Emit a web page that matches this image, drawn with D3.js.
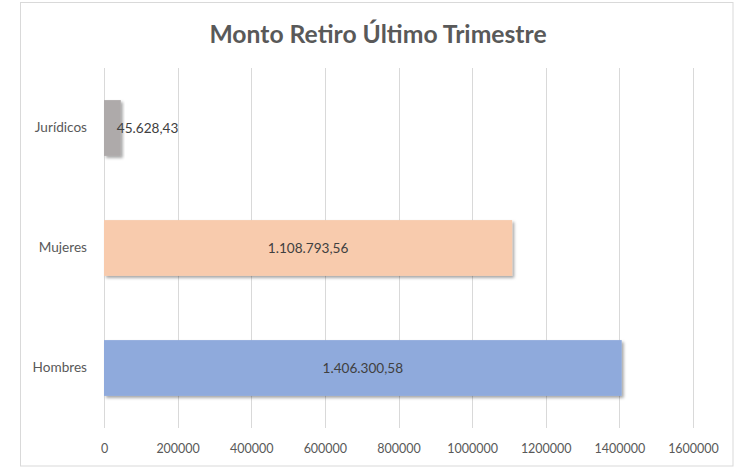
<!DOCTYPE html>
<html>
<head>
<meta charset="utf-8">
<script src="https://cdn.jsdelivr.net/npm/d3@7"></script>
<style>
  html, body { margin: 0; padding: 0; background: #fff; }
  svg { display: block; font-family: Lato, "Open Sans", sans-serif; }
</style>
</head>
<body>
<div id="chart"></div>
<script>
// chart data
const title = 'Monto Retiro Último Trimestre'
const categories = ['Jurídicos', 'Mujeres', 'Hombres']
const values = [45628.43, 1108793.56, 1406300.58]
const colors = ['#AEAAAA', '#F8CBAD', '#8FAADC']
const xTicks = [0, 200000, 400000, 600000, 800000, 1000000, 1200000, 1400000, 1600000]

const width = 743
const height = 468
const textColor = '#595959'
const gridColor = '#D9D9D9'

// es-ES style number: 1.406.300,58
const fmtLabel = d3.formatLocale({ decimal: ',', thousands: '.', grouping: [3], currency: ['', ''] }).format(',.2f')

const svg = d3.select('#chart')
  .append('svg')
  .attr('width', width)
  .attr('height', height)

// drop shadow for bars
const defs = svg.append('defs')
const filter = defs.append('filter')
  .attr('id', 'shadow')
  .attr('x', '-10%').attr('y', '-20%')
  .attr('width', '130%').attr('height', '150%')
filter.append('feDropShadow')
  .attr('dx', 2).attr('dy', 2)
  .attr('stdDeviation', 1.5)
  .attr('flood-color', '#000')
  .attr('flood-opacity', 0.35)

// outer chart border
svg.append('rect')
  .attr('x', 20.5).attr('y', 2.5)
  .attr('width', 712.5).attr('height', 463.5)
  .attr('fill', '#fff')
  .attr('stroke', gridColor)
  .attr('stroke-width', 1)

svg.append('text')
  .attr('x', 378)
  .attr('y', 42.5)
  .attr('text-anchor', 'middle')
  .attr('fill', textColor)
  .attr('font-size', 24.7)
  .attr('font-weight', 'bold')
  .text(title)

const x = d3.scaleLinear()
  .domain([0, 1600000])
  .range([104, 693])

const y = d3.scaleBand()
  .domain(categories)
  .range([68, 428])
  .paddingInner(0.535)
  .paddingOuter(0.2675)

// gridlines
svg.append('g')
  .selectAll('line')
  .data(xTicks)
  .join('line')
  .attr('x1', d => Math.round(x(d)) + 0.5)
  .attr('x2', d => Math.round(x(d)) + 0.5)
  .attr('y1', 68)
  .attr('y2', 428)
  .attr('stroke', gridColor)
  .attr('stroke-width', 1)

// x axis labels
const xAxis = svg.append('g')
  .attr('transform', 'translate(0,440)')
  .call(d3.axisBottom(x).tickValues(xTicks).tickFormat(d3.format('d')).tickSize(0).tickPadding(0))
xAxis.select('.domain').remove()
xAxis.selectAll('text')
  .attr('dy', null)
  .attr('y', 12.7)
  .attr('fill', textColor)
  .attr('font-size', 12.5)
  .attr('font-family', 'Lato, sans-serif')

// y axis labels
const yAxis = svg.append('g')
  .attr('transform', 'translate(87,0)')
  .call(d3.axisLeft(y).tickSize(0).tickPadding(0))
yAxis.select('.domain').remove()
yAxis.selectAll('text')
  .attr('fill', textColor)
  .attr('font-size', 13.6)
  .attr('font-family', 'Lato, sans-serif')

// bars
svg.append('g')
  .selectAll('rect')
  .data(values)
  .join('rect')
  .attr('x', x(0))
  .attr('y', (d, i) => y(categories[i]))
  .attr('width', d => x(d) - x(0))
  .attr('height', y.bandwidth())
  .attr('fill', (d, i) => colors[i])
  .attr('filter', 'url(#shadow)')

// data labels: centred, except when the bar is too short for the text
svg.append('g')
  .selectAll('text')
  .data(values)
  .join('text')
  .attr('x', d => (x(d) - x(0) > 80 ? (x(0) + x(d)) / 2 : x(d) - 4))
  .attr('y', (d, i) => y(categories[i]) + y.bandwidth() / 2)
  .attr('dy', '0.35em')
  .attr('text-anchor', d => (x(d) - x(0) > 80 ? 'middle' : 'start'))
  .attr('fill', '#404040')
  .attr('font-size', 13.6)
  .text(d => fmtLabel(d))
</script>
</body>
</html>
